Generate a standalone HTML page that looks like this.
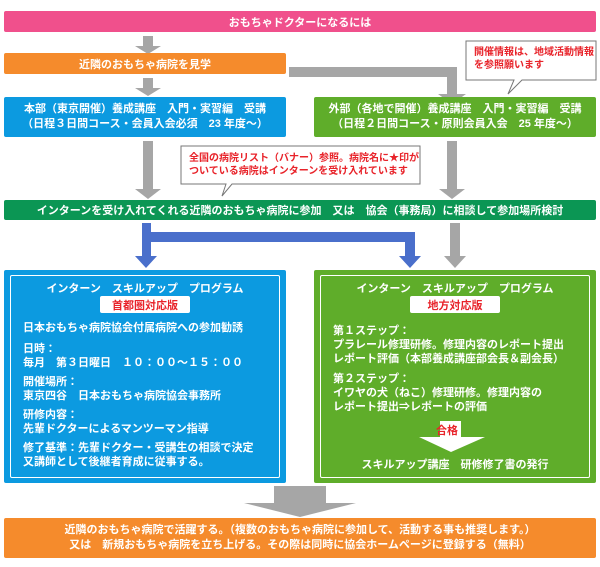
<!DOCTYPE html>
<html><head><meta charset="utf-8"><style>
body{margin:0;width:600px;height:567px;background:#fff;position:relative;overflow:hidden;font-family:"Liberation Sans","Noto Sans CJK JP",sans-serif;font-weight:bold}
.b{position:absolute;color:#fff;display:flex;align-items:center;justify-content:center;text-align:center;border-radius:2px}
.t{position:absolute;white-space:nowrap;font-size:11px;color:#fff}
svg{position:absolute;left:0;top:0}
</style></head><body>
<svg width="600" height="567">
<g fill="#a6a6a6">
<rect x="143" y="36" width="10" height="10"/><polygon points="135,46 161,46 148,54"/>
<rect x="143" y="78" width="10" height="10"/><polygon points="135,88 161,88 148,96"/>
<polygon points="289,67 457,67 457,94 466,94 452,104 438,94 447,94 447,77 289,77"/>
<rect x="143" y="141" width="10" height="48"/><polygon points="135,189 161,189 148,199"/>
<rect x="447" y="141" width="10" height="48"/><polygon points="439,189 465,189 452,199"/>
<rect x="450" y="223" width="10" height="34"/><polygon points="444,256 466,256 455,268"/>
<rect x="274" y="486" width="52" height="17"/><polygon points="244,503 356,503 300,517"/>
</g>
<g fill="#4a6fcb">
<polygon points="142,223 151,223 151,232 415,232 415,256 421,256 410,268 399,256 405,256 405,242 151,242 151,256 157,256 146,268 135,256 142,256"/>
</g>
</svg>
<div class="b" style="left:4px;top:11px;width:592px;height:21px;background:#f0508c;font-size:11px">おもちゃドクターになるには</div>
<div class="b" style="left:4px;top:53px;width:282px;height:21px;background:#f58b2c;font-size:11px">近隣のおもちゃ病院を見学</div>
<div class="b" style="left:4px;top:97px;width:282px;height:40px;background:#0c9ae0;font-size:11px;line-height:15px">本部（東京開催）養成講座　入門・実習編　受講<br>（日程３日間コース・会員入会必須　23 年度～）</div>
<div class="b" style="left:314px;top:97px;width:282px;height:40px;background:#5fad2a;font-size:11px;line-height:15px">外部（各地で開催）養成講座　入門・実習編　受講<br>（日程２日間コース・原則会員入会　25 年度～）</div>
<div class="b" style="left:4px;top:200px;width:592px;height:20px;background:#0b9654;font-size:11px">インターンを受け入れてくれる近隣のおもちゃ病院に参加　又は　協会（事務局）に相談して参加場所検討</div>

<svg width="600" height="567">
<polygon points="466,41 596,41 596,80 522,80 508,94 514,80 466,80" fill="#fff" stroke="#777" stroke-width="1"/>
<polygon points="181,146 420,146 420,184 232,184 222,196 226,184 181,184" fill="#fff" stroke="#777" stroke-width="1"/>
</svg>
<div class="t" style="left:474px;top:46px;color:#e8232a;font-size:10px;line-height:13px">開催情報は、地域活動情報<br>を参照願います</div>
<div class="t" style="left:189px;top:152px;color:#e8232a;font-size:10px;line-height:13px">全国の病院リスト（バナー）参照。病院名に★印が<br>ついている病院はインターンを受け入れています</div>

<div style="position:absolute;left:4px;top:270px;width:282px;height:213px;background:#0c9ae0;border-radius:2px"></div>
<div style="position:absolute;left:10px;top:275px;width:268px;height:201px;border:1.5px solid #fff;border-radius:2px"></div>
<div style="position:absolute;left:314px;top:270px;width:282px;height:213px;background:#5fad2a;border-radius:2px"></div>
<div style="position:absolute;left:320px;top:275px;width:268px;height:201px;border:1.5px solid #fff;border-radius:2px"></div>

<div class="t" style="left:4px;width:282px;text-align:center;top:280px">インターン　スキルアップ　プログラム</div>
<div class="b" style="left:100px;top:296px;width:90px;height:17px;background:#fff;color:#e8232a;font-size:11px">首都圏対応版</div>
<div class="t" style="left:314px;width:282px;text-align:center;top:280px">インターン　スキルアップ　プログラム</div>
<div class="b" style="left:410px;top:296px;width:90px;height:17px;background:#fff;color:#e8232a;font-size:11px">地方対応版</div>

<div class="t" style="left:23px;top:321px;line-height:14px">日本おもちゃ病院協会付属病院への参加勧誘</div>
<div class="t" style="left:23px;top:342px;line-height:14px">日時：<br>毎月　第３日曜日　１０：００～１５：００</div>
<div class="t" style="left:23px;top:375px;line-height:14px">開催場所：<br>東京四谷　日本おもちゃ病院協会事務所</div>
<div class="t" style="left:23px;top:408px;line-height:14px">研修内容：<br>先輩ドクターによるマンツーマン指導</div>
<div class="t" style="left:23px;top:441px;line-height:14px">修了基準：先輩ドクター・受講生の相談で決定<br>又講師として後継者育成に従事する。</div>

<div class="t" style="left:333px;top:324px;line-height:14px">第１ステップ：<br>プラレール修理研修。修理内容のレポート提出<br>レポート評価（本部養成講座部会長＆副会長）</div>
<div class="t" style="left:333px;top:372px;line-height:14px">第２ステップ：<br>イワヤの犬（ねこ）修理研修。修理内容の<br>レポート提出⇒レポートの評価</div>
<svg width="600" height="567"><polygon points="440,421 461,421 461,437 485,437 451,452 419,437 440,437" fill="#fff"/></svg>
<div class="t" style="left:436px;top:422px;color:#e8232a">合格</div>
<div class="t" style="left:314px;width:282px;text-align:center;top:456px">スキルアップ講座　研修修了書の発行</div>

<div class="b" style="left:4px;top:518px;width:592px;height:40px;background:#f58b2c;font-size:11px;line-height:15px">近隣のおもちゃ病院で活躍する。（複数のおもちゃ病院に参加して、活動する事も推奨します。）<br>又は　新規おもちゃ病院を立ち上げる。その際は同時に協会ホームページに登録する（無料）</div>
</body></html>
